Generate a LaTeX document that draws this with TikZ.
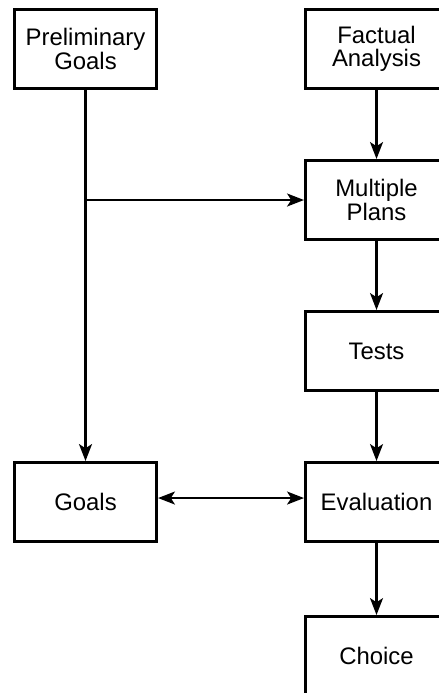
\documentclass[tikz,border=0pt]{standalone}
\usepackage{fontspec}
\setmainfont{Liberation Sans}
\usetikzlibrary{arrows.meta, positioning}

\begin{document}
\begin{tikzpicture}[>={Stealth[length=4.2mm, width=3.2mm, inset=1mm]}, line width=2pt,
		node distance=1.725cm and 3.65cm,
		box/.style={draw, line width=2pt, minimum width=3.555cm, minimum height=1.98cm,
			inner sep=0pt, align=center, font=\fontsize{17}{16.5}\selectfont}]
			% Page frame
			\useasboundingbox (0, 0) rectangle (10.975, -17.325);
			\clip (0, 0) rectangle (10.975, -17.325);
			
			% Draw the boxes
			\node[box] (prelim) at (2.1375, -1.225) {Preliminary\\Goals};
			\node[box, right=of prelim] (factual) {Factual\\Analysis};
			\node[box, below=of factual] (plans) {Multiple\\Plans};
			\node[box, below=of plans] (tests) {Tests};
			\node[box, below=of tests] (eval) {Evaluation};
			\node[box, below=1.8cm of eval] (choice) {Choice};
			\node[box, left=of eval] (goals) {Goals};
			
			% Draw the right column arrows
			\draw[->] (factual) -- (plans);
			\draw[->] (plans) -- (tests);
			\draw[->] (tests) -- (eval);
			\draw[->] (eval) -- (choice);
			
			% Draw the left line and its branch
			\draw[->] (prelim) -- (goals);
			\coordinate (branch) at (prelim.south |- plans.west);
			\draw[->] (branch) -- (plans.west);
			
			% Draw the two-way arrow
			\draw[<->] ([yshift=1mm]goals.east) -- ([yshift=1mm]eval.west);
			
		\end{tikzpicture}
\end{document}
